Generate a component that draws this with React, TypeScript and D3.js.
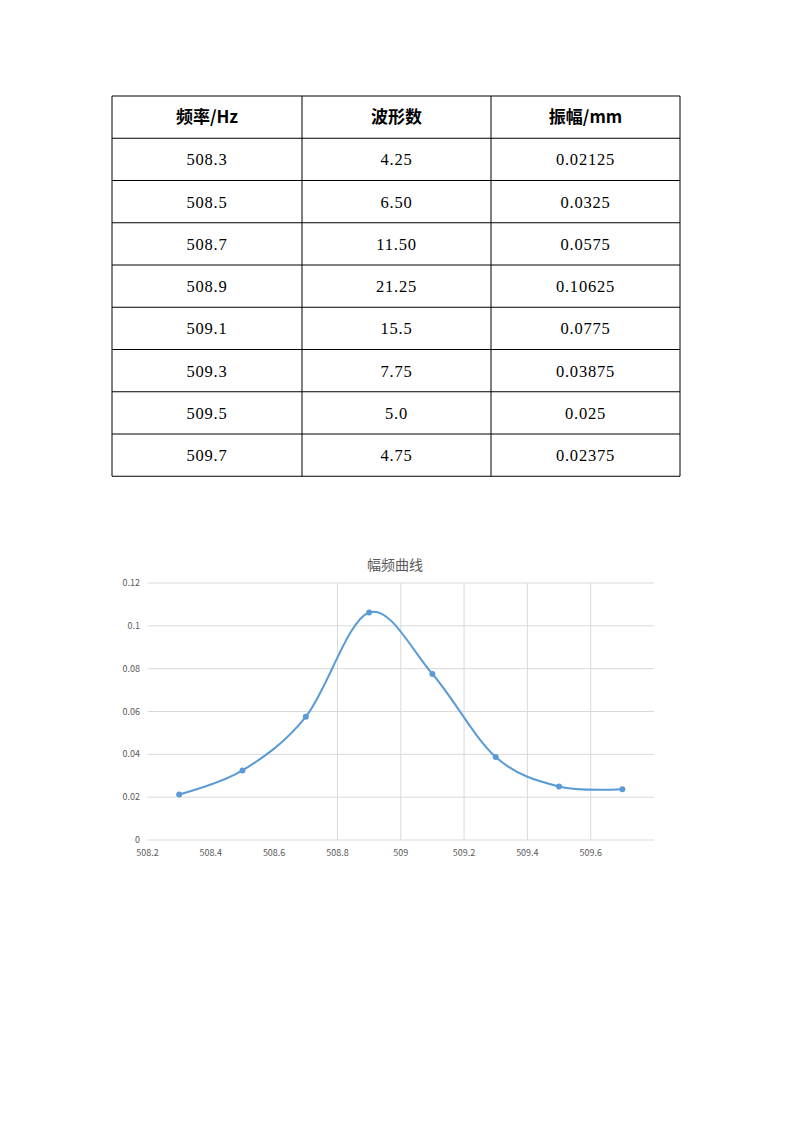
import React from "react";
import * as d3 from "d3";

const freqLabels = ["508.3", "508.5", "508.7", "508.9", "509.1", "509.3", "509.5", "509.7"];
const waveLabels = ["4.25", "6.50", "11.50", "21.25", "15.5", "7.75", "5.0", "4.75"];
const ampLabels = ["0.02125", "0.0325", "0.0575", "0.10625", "0.0775", "0.03875", "0.025", "0.02375"];
const headers = ["频率/Hz", "波形数", "振幅/mm"];

const freqs = [508.3, 508.5, 508.7, 508.9, 509.1, 509.3, 509.5, 509.7];
const amps = [0.02125, 0.0325, 0.0575, 0.10625, 0.0775, 0.03875, 0.025, 0.02375];

const xTicks = [508.2, 508.4, 508.6, 508.8, 509, 509.2, 509.4, 509.6];
const xTickLabels = ["508.2", "508.4", "508.6", "508.8", "509", "509.2", "509.4", "509.6"];
const xGridTicks = [508.8, 509, 509.2, 509.4, 509.6];
const yTicks = [0, 0.02, 0.04, 0.06, 0.08, 0.1, 0.12];
const yTickLabels = ["0", "0.02", "0.04", "0.06", "0.08", "0.1", "0.12"];
const chartTitle = "幅频曲线";

export default function App() {
  // table geometry
  const colX = [112, 302, 491, 680];
  const tableTop = 96;
  const rowH = 42.25;
  const rows = [headers, ...freqLabels.map((f, i) => [f, waveLabels[i], ampLabels[i]])];
  const rowY = d3.range(rows.length + 1).map((i) => tableTop + i * rowH);

  // chart scales
  const x = d3.scaleLinear().domain([508.2, 509.8]).range([147.5, 654]);
  const y = d3.scaleLinear().domain([0, 0.12]).range([840, 583]);
  const pts: [number, number][] = freqs.map((f, i) => [x(f), y(amps[i])]);
  const line = d3.line().curve(d3.curveCardinal.tension(0))(pts) || "";

  const tickColor = "#595959";
  const gridColor = "#d9d9d9";

  return (
    <svg
      width={793}
      height={1122}
      style={{ position: "absolute", left: 0, top: 0, background: "#fff" }}
    >
      <rect x={0} y={0} width={793} height={1122} fill="#fff" />
      {/* table */}
      <g>
        {rowY.map((yy, i) => (
          <line key={"h" + i} x1={colX[0]} x2={colX[3]} y1={yy} y2={yy} stroke="#000" strokeWidth={1} />
        ))}
        {colX.map((xx, i) => (
          <line key={"v" + i} x1={xx} x2={xx} y1={rowY[0]} y2={rowY[rowY.length - 1]} stroke="#000" strokeWidth={1} />
        ))}
        {rows.map((r, ri) =>
          r.map((txt, ci) => (
            <text
              key={ri + "-" + ci}
              x={(colX[ci] + colX[ci + 1]) / 2}
              y={(rowY[ri] + rowY[ri + 1]) / 2}
              dy="0.36em"
              textAnchor="middle"
              fontFamily={ri === 0 ? "'Noto Sans CJK SC', 'Liberation Serif', serif" : "'Liberation Serif', serif"}
              fontWeight={ri === 0 ? "bold" : "normal"}
              fontSize={ri === 0 ? 17 : 16.5}
              letterSpacing={ri === 0 ? 0 : 0.8}
              fill="#000"
            >
              {txt}
            </text>
          ))
        )}
      </g>

      {/* chart */}
      <g fontFamily="'Noto Sans CJK SC', 'Noto Sans', sans-serif">
        <text x={395} y={570} textAnchor="middle" fontSize={14} fill={tickColor}>
          {chartTitle}
        </text>
        {yTicks.map((t) => (
          <line key={"gy" + t} x1={x(508.2)} x2={x(509.8)} y1={y(t)} y2={y(t)} stroke={gridColor} strokeWidth={1} />
        ))}
        {xGridTicks.map((t) => (
          <line key={"gx" + t} x1={x(t)} x2={x(t)} y1={y(0.12)} y2={y(0)} stroke={gridColor} strokeWidth={1} />
        ))}
        {yTicks.map((t, i) => (
          <text key={"yl" + t} x={140} y={y(t)} dy="0.35em" textAnchor="end" fontSize={9} fill={tickColor}>
            {yTickLabels[i]}
          </text>
        ))}
        {xTicks.map((t, i) => (
          <text key={"xl" + t} x={x(t)} y={856} textAnchor="middle" fontSize={9} fill={tickColor}>
            {xTickLabels[i]}
          </text>
        ))}
        <path d={line} fill="none" stroke="#5B9BD5" strokeWidth={2} strokeLinejoin="round" />
        {pts.map((p, i) => (
          <circle key={"p" + i} cx={p[0]} cy={p[1]} r={3} fill="#5B9BD5" />
        ))}
      </g>
    </svg>
  );
}
